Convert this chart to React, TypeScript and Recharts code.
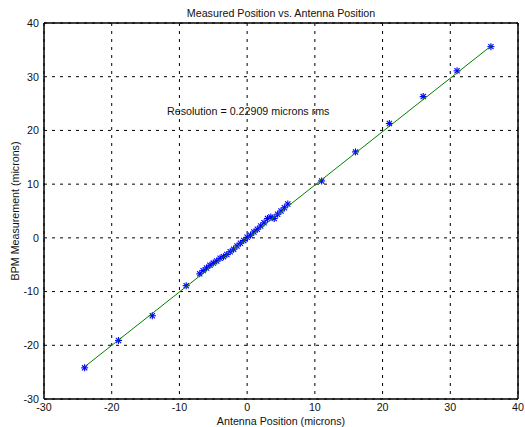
import React from 'react';
import { ScatterChart, Scatter, XAxis, YAxis, CartesianGrid, ReferenceLine } from 'recharts';

const antennaX = [-24, -19, -14, -9, -7, -6.5, -6, -5.5, -5, -4.5, -4, -3.5, -3, -2.5, -2, -1.5, -1, -0.5, 0, 0.5, 1, 1.5, 2, 2.5, 3, 3.5, 4, 4.5, 5, 5.5, 6, 11, 16, 21, 26, 31, 36];
const bpmY = [-24.2, -19.1, -14.5, -8.9, -6.7, -6.1, -5.6, -5.1, -4.7, -4.3, -3.8, -3.5, -3.1, -2.6, -2.1, -1.5, -1.0, -0.5, 0.1, 0.5, 1.1, 1.6, 2.2, 2.8, 3.6, 3.9, 3.6, 4.4, 5.0, 5.6, 6.3, 10.6, 16.0, 21.3, 26.3, 31.1, 35.6];
const fitX = [-24, 36];
const fitY = [-24.0, 35.7];
const xTicks = [-30, -20, -10, 0, 10, 20, 30, 40];
const yTicks = [-30, -20, -10, 0, 10, 20, 30, 40];

const pointData = antennaX.map((x, i) => ({ x, y: bpmY[i] }));
const fitData = fitX.map((x, i) => ({ x, y: fitY[i] }));

const FONT = 'Liberation Sans, Arial, sans-serif';
const FS = 10.7;
const TXT = '#111';

const Asterisk = (props: any) => {
  const { cx, cy } = props;
  if (cx == null || cy == null) return <g />;
  const r = 3.5;
  const d = 2.6;
  return (
    <g stroke="#0000ff" strokeWidth={1.1}>
      <line x1={cx - r} y1={cy} x2={cx + r} y2={cy} />
      <line x1={cx} y1={cy - r} x2={cx} y2={cy + r} />
      <line x1={cx - d} y1={cy - d} x2={cx + d} y2={cy + d} />
      <line x1={cx - d} y1={cy + d} x2={cx + d} y2={cy - d} />
    </g>
  );
};

export default function App() {
  const tickStyle = { fontSize: FS, fill: TXT, fontFamily: FONT };
  return (
    <div style={{ position: 'absolute', left: 0, top: 0, width: 525, height: 427, background: '#fff', fontFamily: FONT }}>
      <ScatterChart width={525} height={427} margin={{ top: 23, right: 7, bottom: 0, left: 10 }}>
        <CartesianGrid stroke="#000" strokeDasharray="3 5" strokeWidth={1} />
        <XAxis
          type="number"
          dataKey="x"
          domain={[-30, 40]}
          ticks={xTicks}
          allowDataOverflow
          height={28}
          tickLine={false}
          tickSize={3}
          tickMargin={1}
          tick={tickStyle}
          axisLine={{ stroke: '#000', strokeWidth: 1.5 }}
          label={{ value: 'Antenna Position (microns)', position: 'insideBottom', offset: 2, style: { fontSize: FS, fill: TXT, fontFamily: FONT } }}
        />
        <YAxis
          type="number"
          dataKey="y"
          domain={[-30, 40]}
          ticks={yTicks}
          allowDataOverflow
          width={34}
          tickLine={false}
          tickSize={3}
          tickMargin={2}
          tick={tickStyle}
          axisLine={{ stroke: '#000', strokeWidth: 1.5 }}
          label={{ value: 'BPM Measurement (microns)', angle: -90, position: 'insideLeft', offset: 5, style: { textAnchor: 'middle', fontSize: FS, fill: TXT, fontFamily: FONT } }}
        />
        <ReferenceLine x={40} stroke="#000" strokeWidth={1.5} />
        <ReferenceLine y={40} stroke="#000" strokeWidth={1.5} />
        <Scatter data={pointData} shape={Asterisk} isAnimationActive={false} />
        <Scatter data={fitData} line={{ stroke: '#008000', strokeWidth: 1 }} shape={() => <g />} isAnimationActive={false} />
      </ScatterChart>
      <div style={{ position: 'absolute', left: 44, width: 474, top: 6, lineHeight: '14px', fontSize: FS, textAlign: 'center', color: TXT }}>
        Measured Position vs. Antenna Position
      </div>
      <div style={{ position: 'absolute', left: 167, top: 104, lineHeight: '14px', fontSize: FS, color: TXT, whiteSpace: 'nowrap' }}>
        Resolution = 0.22909 microns rms
      </div>
    </div>
  );
}
